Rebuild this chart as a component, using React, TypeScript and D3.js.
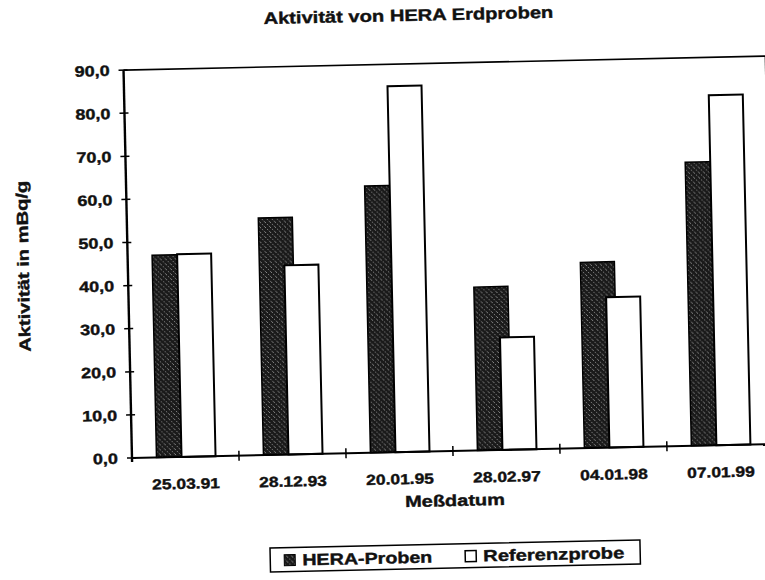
import { scaleBand, scaleLinear, range, formatLocale } from "d3";

const dates = ["25.03.91", "28.12.93", "20.01.95", "28.02.97", "04.01.98", "07.01.99"];
const heraProben = [46.9, 55.0, 61.9, 37.9, 43.1, 65.8];
const referenzprobe = [47.0, 43.9, 84.9, 26.1, 34.9, 81.2];
const yTicks = range(0, 91, 10);
const seriesNames = ["HERA-Proben", "Referenzprobe"];

const W = 765;
const H = 580;
const left = 132;
const right = 774;
const top = 70;
const bottom = 458;
const font = "'Liberation Sans', Arial, sans-serif";

// the scan is tilted a little and the lettering is wide
const tilt = -1.25;
const sx = 1.22;

const de = formatLocale({ decimal: ",", thousands: ".", grouping: [3], currency: ["", " €"] });
const fmt = de.format(".1f");

const x = scaleBand<string>().domain(dates).range([left, right]);
const y = scaleLinear().domain([0, 90]).range([bottom, top]);

const Label = ({ x, y, size, anchor = "middle", rot = 0, scale = sx, children }: any) => (
  <text
    transform={`translate(${x},${y}) rotate(${rot}) scale(${scale},1)`}
    textAnchor={anchor}
    fontFamily={font}
    fontWeight="bold"
    fontSize={size}
    fill="#111"
    stroke="#111"
    strokeWidth={0.4}
  >
    {children}
  </text>
);

const App = () => {
  const bw = x.bandwidth();
  const barW = bw * 0.318;
  const darkOff = bw * 0.229;
  const whiteOff = bw * 0.463;

  return (
    <svg width={W} height={H} style={{ position: "absolute", left: 0, top: 0, background: "#fff" }}>
      <defs>
        <pattern id="hatch" width="5" height="5" patternUnits="userSpaceOnUse">
          <rect width="5" height="5" fill="#1a1a1a" />
          <path d="M0,0 L5,5" stroke="#8c8c8c" strokeWidth="1" strokeDasharray="1.5,1.5" />
        </pattern>
      </defs>
      <g transform={`rotate(${tilt},${left},${bottom})`}>
        <Label x={418} y={27} size={16.5} scale={1.22}>Aktivität von HERA Erdproben</Label>

        {/* frame */}
        <line x1={left} x2={right} y1={top} y2={top} stroke="#000" strokeWidth={1.6} />
        <line x1={right} x2={right} y1={top} y2={bottom} stroke="#000" strokeWidth={1.6} />

        {/* bars */}
        {dates.map((d, i) => (
          <g key={d}>
            <rect
              x={(x(d) as number) + darkOff}
              y={y(heraProben[i])}
              width={barW}
              height={bottom - y(heraProben[i])}
              fill="url(#hatch)"
              stroke="#000"
              strokeWidth={1.5}
            />
            <rect
              x={(x(d) as number) + whiteOff}
              y={y(referenzprobe[i])}
              width={barW}
              height={bottom - y(referenzprobe[i])}
              fill="#fff"
              stroke="#000"
              strokeWidth={2}
            />
          </g>
        ))}

        {/* axes */}
        <line x1={left} x2={left} y1={top} y2={bottom + 4} stroke="#000" strokeWidth={2.4} />
        <line x1={left} x2={right} y1={bottom} y2={bottom} stroke="#000" strokeWidth={2} />
        {yTicks.map((t) => (
          <g key={t}>
            <line x1={left - 5} x2={left + 4} y1={y(t)} y2={y(t)} stroke="#000" strokeWidth={1.5} />
            <Label x={left - 14} y={y(t) + 5.5} size={15} anchor="end" scale={1.2}>
              {fmt(t)}
            </Label>
          </g>
        ))}
        {dates.slice(1).map((d) => (
          <line key={d} x1={x(d)} x2={x(d)} y1={bottom - 5} y2={bottom + 5} stroke="#000" strokeWidth={1.5} />
        ))}
        {dates.map((d) => (
          <Label key={d} x={(x(d) as number) + bw / 2} y={490} size={14.5} scale={1.2}>
            {d}
          </Label>
        ))}

        <Label x={454} y={513} size={16} scale={1.25}>Meßdatum</Label>
        <Label x={33} y={264} size={16} rot={-90} scale={1.26}>Aktivität in mBq/g</Label>

        {/* legend */}
        <rect x={268} y={551} width={370} height={24} fill="#fff" stroke="#000" strokeWidth={1.5} />
        <rect x={282} y={558} width={11} height={11} fill="url(#hatch)" stroke="#000" strokeWidth={1} />
        <Label x={300} y={569} size={16} anchor="start" scale={1.23}>{seriesNames[0]}</Label>
        <rect x={463} y={558} width={11} height={11} fill="#fff" stroke="#000" strokeWidth={1.5} />
        <Label x={481} y={569} size={16} anchor="start" scale={1.26}>{seriesNames[1]}</Label>
      </g>
    </svg>
  );
};

export default App;
